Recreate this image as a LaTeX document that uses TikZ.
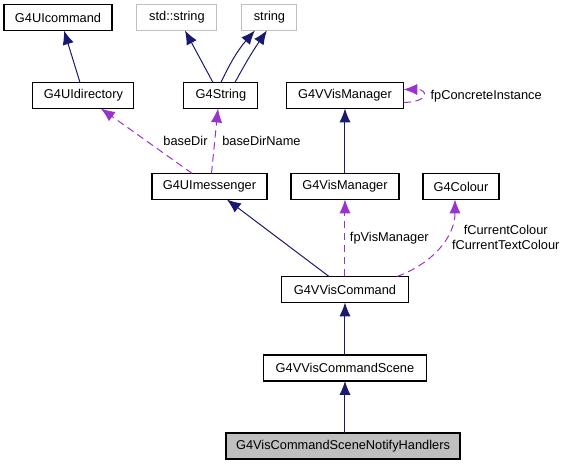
\documentclass[tikz,border=0pt]{standalone}
\usepackage{fontspec}
\setmainfont{Liberation Sans}
\usetikzlibrary{arrows.meta}
\usetikzlibrary{positioning}

\definecolor{navyline}{HTML}{191970}
\definecolor{purpline}{HTML}{9A32CD}
\definecolor{extgray}{HTML}{BFBFBF}

\begin{document}
\begin{tikzpicture}[
    font=\fontsize{9.6}{11}\selectfont,
    cls/.style={draw=black, line width=0.8pt, minimum height=19.5pt, inner sep=0pt, outer sep=0pt},
    ext/.style={cls, draw=extgray},
    inherit_edge/.style={color=navyline, line width=0.75pt, -{Latex[length=10.5pt,width=8.5pt]}},
    use_edge/.style={color=purpline, text=black, line width=0.75pt, dash pattern=on 5.5pt off 3.5pt, -{Latex[length=10.5pt,width=8.5pt]}}
]
                \useasboundingbox (-257.25pt,-13.5pt) rectangle (166.5pt,334.5pt);
                \node[cls, fill=extgray, minimum width=175.5pt] (notify) {G4VisCommandSceneNotifyHandlers};
                \node[cls, minimum width=122.25pt] (vvis_scene) [above=39pt of notify, xshift=1.5pt] {G4VVisCommandScene};
                \node[cls, minimum width=95.25pt] (vvis_cmd) [above=39.4pt of vvis_scene] {G4VVisCommand};
                \node[cls, minimum width=81pt] (vis_mgr) [above=57.75pt of vvis_cmd] {G4VisManager};
                \node[cls, minimum width=57pt] (colour) [right=18pt of vis_mgr] {G4Colour};
                \node[cls, minimum width=86.25pt] (ui_msg) [left=18pt of vis_mgr] {G4UImessenger};
                \node[cls, minimum width=87.75pt] (vvis_mgr) [above=48.75pt of vis_mgr] {G4VVisManager};
                \node[cls, minimum width=55.5pt] (g4_str) [above=48.75pt of ui_msg, xshift=8.6pt] {G4String};
                \node[cls, minimum width=75.75pt] (ui_dir) [left=37.5pt of g4_str] {G4UIdirectory};
                \node[cls, minimum width=81pt] (ui_cmd) [above=39pt of ui_dir, xshift=-19.1pt] {G4UIcommand};
                \node[ext, minimum width=60pt] (std_str) [above=39pt of g4_str, xshift=-33pt] {std::string};
                \node[ext, minimum width=41.25pt] (str) [right=18.75pt of std_str] {string};
                \path[inherit_edge]
                    ([xshift=-2.6pt]ui_dir.north) edge ([xshift=4.5pt]ui_cmd.south)
                    ([xshift=-6pt]g4_str.north) edge ([xshift=6pt]std_str.south)
                    (g4_str.north) edge[bend left=8] ([xshift=-10.9pt]str.south)
                    ([xshift=10.5pt]g4_str.north) edge[bend left=3] ([xshift=-1.9pt]str.south)
                    (vis_mgr) edge (vvis_mgr)
                    ([xshift=-12pt]vvis_cmd.north) edge ([xshift=13pt]ui_msg.south)
                    (vvis_scene) edge (vvis_cmd)
                    ([xshift=1.5pt]notify.north) edge (vvis_scene.south);
                \path[use_edge]
                    ([xshift=-13pt]ui_msg.north) edge node[right=9pt] {baseDir} ([xshift=13pt]ui_dir.south)
                    ([xshift=1.5pt]ui_msg.north) edge node[right=2pt] {baseDirName} ([xshift=-2.25pt]g4_str.south)
                    ([yshift=-5.2pt]vvis_mgr.east) edge[out=0, in=0, looseness=5] node[right=2.5pt] {fpConcreteInstance} ([yshift=4.5pt]vvis_mgr.east)
                    (vvis_cmd) edge node[right] {fpVisManager} (vis_mgr)
                    ([xshift=39pt]vvis_cmd.north) edge[out=20, in=-90] node[pos=0.62, right=1pt, align=center] {fCurrentColour\\fCurrentTextColour} ([xshift=-4.5pt]colour.south);
            \end{tikzpicture}
\end{document}
